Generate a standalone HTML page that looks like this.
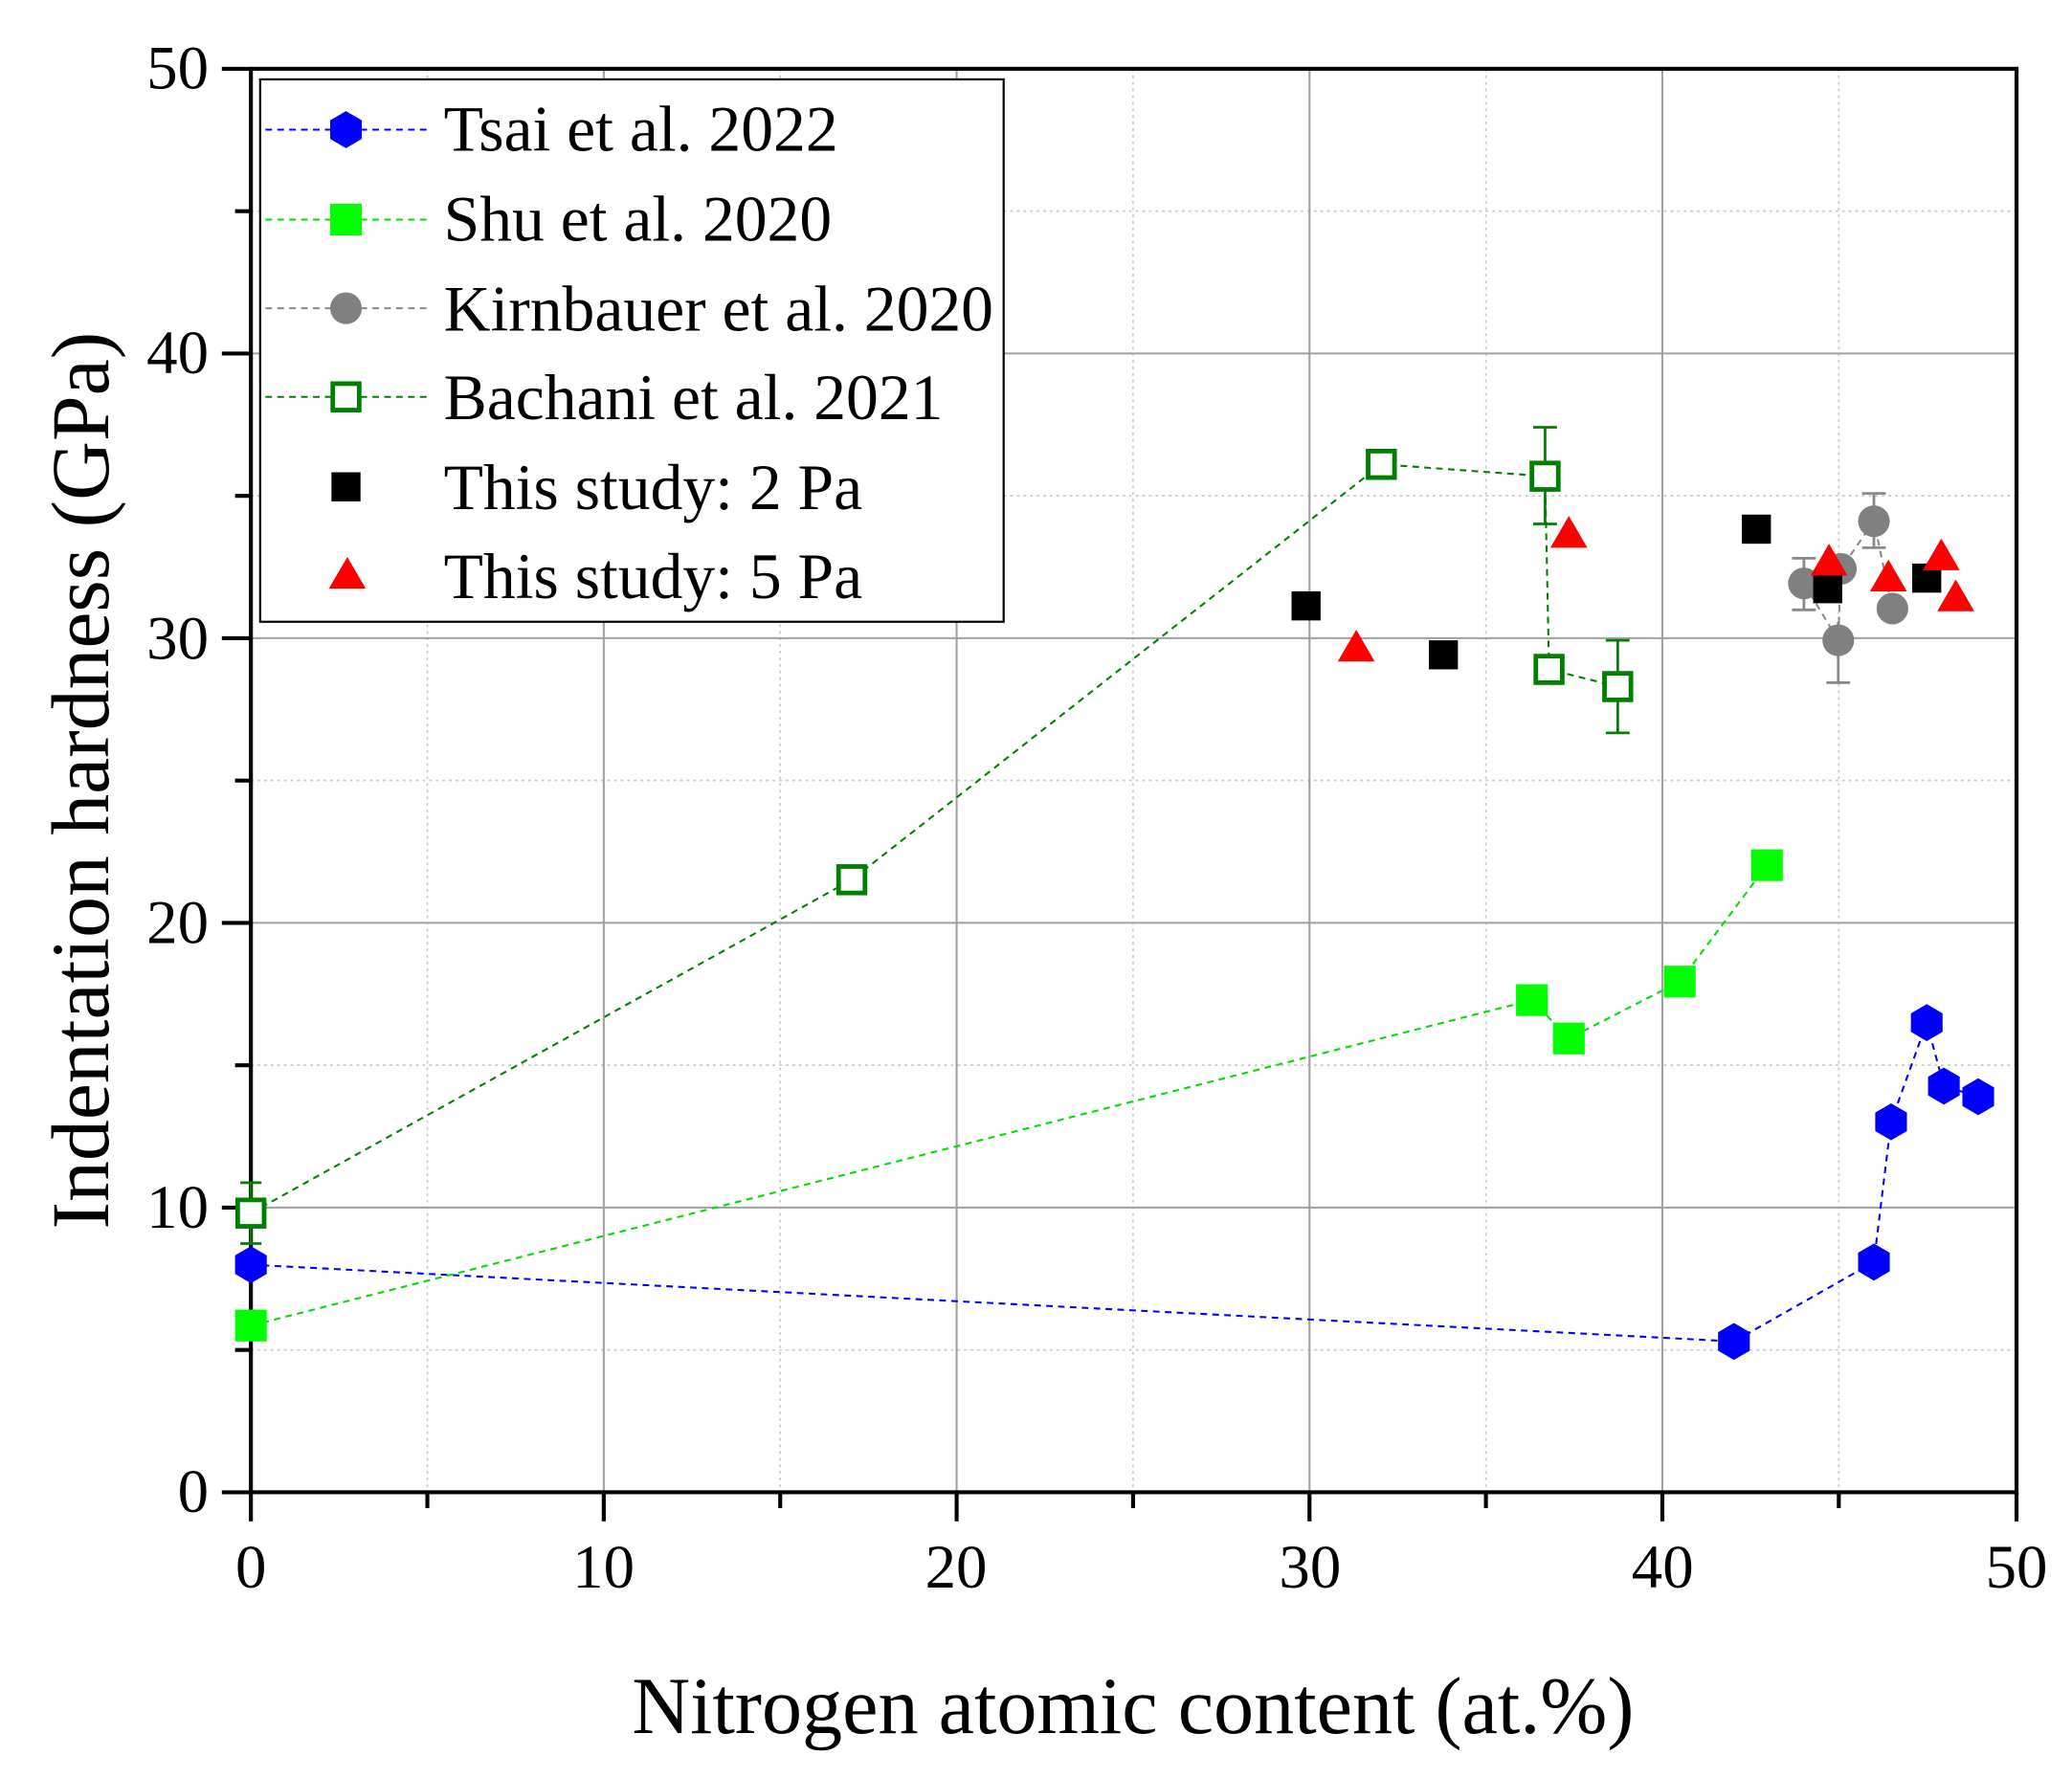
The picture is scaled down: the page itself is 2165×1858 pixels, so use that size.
<!DOCTYPE html>
<html><head><meta charset="utf-8"><style>html,body{margin:0;padding:0;background:#fff}svg{display:block}</style></head>
<body>
<svg width="2165" height="1858" viewBox="0 0 1569 1344" preserveAspectRatio="none" xmlns="http://www.w3.org/2000/svg" font-family="'Liberation Serif', serif">
<rect width="1569" height="1344" fill="#fff"/>
<g stroke="#c8c8c8" stroke-width="1.2" stroke-dasharray="2,3">
<line x1="323.6" y1="52" x2="323.6" y2="1128"/><line x1="590.8" y1="52" x2="590.8" y2="1128"/><line x1="858" y1="52" x2="858" y2="1128"/><line x1="1125.2" y1="52" x2="1125.2" y2="1128"/><line x1="1392.4" y1="52" x2="1392.4" y2="1128"/>
<line x1="190" y1="1020.4" x2="1527" y2="1020.4"/><line x1="190" y1="805.2" x2="1527" y2="805.2"/><line x1="190" y1="590" x2="1527" y2="590"/><line x1="190" y1="374.8" x2="1527" y2="374.8"/><line x1="190" y1="159.6" x2="1527" y2="159.6"/>
</g>
<g stroke="#a0a0a0" stroke-width="1.5">
<line x1="457.2" y1="52" x2="457.2" y2="1128"/><line x1="724.4" y1="52" x2="724.4" y2="1128"/><line x1="991.6" y1="52" x2="991.6" y2="1128"/><line x1="1258.8" y1="52" x2="1258.8" y2="1128"/>
<line x1="190" y1="912.8" x2="1527" y2="912.8"/><line x1="190" y1="697.6" x2="1527" y2="697.6"/><line x1="190" y1="482.4" x2="1527" y2="482.4"/><line x1="190" y1="267.2" x2="1527" y2="267.2"/>
</g>
<rect x="197" y="60" width="563" height="410" fill="#fff" stroke="#000" stroke-width="1.6"/>
<g stroke="#000" stroke-width="3" fill="none">
<rect x="190" y="52" width="1337" height="1076"/>
<line x1="190" y1="1128" x2="190" y2="1150"/><line x1="457.2" y1="1128" x2="457.2" y2="1150"/><line x1="724.4" y1="1128" x2="724.4" y2="1150"/><line x1="991.6" y1="1128" x2="991.6" y2="1150"/><line x1="1258.8" y1="1128" x2="1258.8" y2="1150"/><line x1="1527" y1="1128" x2="1527" y2="1150"/>
<line x1="323.6" y1="1128" x2="323.6" y2="1140"/><line x1="590.8" y1="1128" x2="590.8" y2="1140"/><line x1="858" y1="1128" x2="858" y2="1140"/><line x1="1125.2" y1="1128" x2="1125.2" y2="1140"/><line x1="1392.4" y1="1128" x2="1392.4" y2="1140"/>
<line x1="168" y1="1128" x2="190" y2="1128"/><line x1="168" y1="912.8" x2="190" y2="912.8"/><line x1="168" y1="697.6" x2="190" y2="697.6"/><line x1="168" y1="482.4" x2="190" y2="482.4"/><line x1="168" y1="267.2" x2="190" y2="267.2"/><line x1="168" y1="52" x2="190" y2="52"/>
<line x1="178" y1="1020.4" x2="190" y2="1020.4"/><line x1="178" y1="805.2" x2="190" y2="805.2"/><line x1="178" y1="590" x2="190" y2="590"/><line x1="178" y1="374.8" x2="190" y2="374.8"/><line x1="178" y1="159.6" x2="190" y2="159.6"/>
</g>
<g font-size="47" fill="#000" text-anchor="middle">
<text x="190" y="1200">0</text><text x="457" y="1200">10</text><text x="724" y="1200">20</text><text x="992" y="1200">30</text><text x="1259" y="1200">40</text><text x="1527" y="1200">50</text>
</g>
<g font-size="47" fill="#000" text-anchor="end">
<text x="158" y="1143">0</text><text x="158" y="928">10</text><text x="158" y="713">20</text><text x="158" y="498">30</text><text x="158" y="282">40</text><text x="158" y="67">50</text>
</g>
<text x="858" y="1310" font-size="61" text-anchor="middle">Nitrogen atomic content (at.%)</text>
<text transform="translate(82,590) rotate(-90)" font-size="62" text-anchor="middle">Indentation hardness (GPa)</text>

<g fill="none" stroke-width="1.5" stroke-dasharray="5,4">
<polyline stroke="#0000ff" points="190,956 1313,1014 1419,954 1432,848 1459,773 1472,821 1498,829"/>
<polyline stroke="#00dd00" points="190,1002 1160,756 1188,785 1272,742 1338,654"/>
<polyline stroke="#008000" points="190,917 645,665 1046,351 1170,360 1173,506 1225,519"/>
<polyline stroke="#888" points="1366,441 1392,484 1394,430 1419,394 1433,460"/>
</g>
<g stroke="#008000" stroke-width="2">
<line x1="190" y1="894" x2="190" y2="940"/><line x1="182" y1="894" x2="198" y2="894"/><line x1="182" y1="940" x2="198" y2="940"/>
<line x1="1170" y1="323" x2="1170" y2="396"/><line x1="1161" y1="323" x2="1179" y2="323"/><line x1="1161" y1="396" x2="1179" y2="396"/>
<line x1="1225" y1="484" x2="1225" y2="554"/><line x1="1216" y1="484" x2="1234" y2="484"/><line x1="1216" y1="554" x2="1234" y2="554"/>
<line x1="1166" y1="497" x2="1182" y2="497"/><line x1="1166" y1="516" x2="1182" y2="516"/>
</g>
<g stroke="#888" stroke-width="2">
<line x1="1366" y1="422" x2="1366" y2="461"/><line x1="1357" y1="422" x2="1375" y2="422"/><line x1="1357" y1="461" x2="1375" y2="461"/>
<line x1="1392" y1="470" x2="1392" y2="516"/><line x1="1383" y1="516" x2="1401" y2="516"/>
<line x1="1419" y1="373" x2="1419" y2="414"/><line x1="1410" y1="373" x2="1428" y2="373"/><line x1="1410" y1="414" x2="1428" y2="414"/>
</g>
<g fill="#fff" stroke="#008000" stroke-width="3.5">
<rect x="180" y="907" width="20" height="20"/><rect x="635" y="655" width="20" height="20"/><rect x="1036" y="341" width="20" height="20"/><rect x="1160" y="350" width="20" height="20"/><rect x="1163" y="496" width="20" height="20"/><rect x="1215" y="509" width="20" height="20"/>
</g>
<g fill="#808080">
<circle cx="1366" cy="441" r="12"/><circle cx="1392" cy="484" r="12"/><circle cx="1394" cy="430" r="12"/><circle cx="1419" cy="394" r="12"/><circle cx="1433" cy="460" r="12"/>
</g>
<g fill="#00ff00">
<rect x="178" y="990" width="24" height="24"/><rect x="1148" y="744" width="24" height="24"/><rect x="1176" y="773" width="24" height="24"/><rect x="1260" y="730" width="24" height="24"/><rect x="1326" y="642" width="24" height="24"/>
</g>
<g fill="#0000ff">
<polygon points="190,942 202,949 202,963 190,970 178,963 178,949"/>
<polygon points="1313,1000 1325,1007 1325,1021 1313,1028 1301,1021 1301,1007"/>
<polygon points="1419,940 1431,947 1431,961 1419,968 1407,961 1407,947"/>
<polygon points="1432,834 1444,841 1444,855 1432,862 1420,855 1420,841"/>
<polygon points="1459,759 1471,766 1471,780 1459,787 1447,780 1447,766"/>
<polygon points="1472,807 1484,814 1484,828 1472,835 1460,828 1460,814"/>
<polygon points="1498,815 1510,822 1510,836 1498,843 1486,836 1486,822"/>
</g>
<g fill="#000">
<rect x="978" y="447" width="22" height="22"/><rect x="1082" y="484" width="22" height="22"/><rect x="1319" y="389" width="22" height="22"/><rect x="1373" y="434" width="22" height="22"/><rect x="1448" y="426" width="22" height="22"/>
</g>
<g fill="#ff0000">
<polygon points="1027,476 1041,500 1013,500"/><polygon points="1188,390 1202,414 1174,414"/><polygon points="1385,411 1399,435 1371,435"/><polygon points="1430,423 1444,447 1416,447"/><polygon points="1470,407 1484,431 1456,431"/><polygon points="1481,438 1495,462 1467,462"/>
</g>

<g font-size="49" fill="#000">
<text x="336" y="114">Tsai et al. 2022</text>
<text x="336" y="182">Shu et al. 2020</text>
<text x="336" y="250">Kirnbauer et al. 2020</text>
<text x="336" y="317">Bachani et al. 2021</text>
<text x="336" y="385">This study: 2 Pa</text>
<text x="336" y="452">This study: 5 Pa</text>
</g>
<g fill="none" stroke-width="1.5" stroke-dasharray="5,4">
<line x1="201" y1="98" x2="325" y2="98" stroke="#0000ff"/>
<line x1="201" y1="166" x2="325" y2="166" stroke="#00dd00"/>
<line x1="201" y1="233" x2="325" y2="233" stroke="#888"/>
<line x1="201" y1="300" x2="325" y2="300" stroke="#008000"/>
</g>
<polygon points="262,84 274,91 274,105 262,112 250,105 250,91" fill="#0000ff"/>
<rect x="250" y="154" width="24" height="24" fill="#00ff00"/>
<circle cx="262" cy="233" r="12" fill="#808080"/>
<rect x="252" y="290" width="20" height="20" fill="#fff" stroke="#008000" stroke-width="3.5"/>
<rect x="251" y="357" width="22" height="22" fill="#000"/>
<polygon points="263,421 277,445 249,445" fill="#ff0000"/>
</svg>
</body></html>
